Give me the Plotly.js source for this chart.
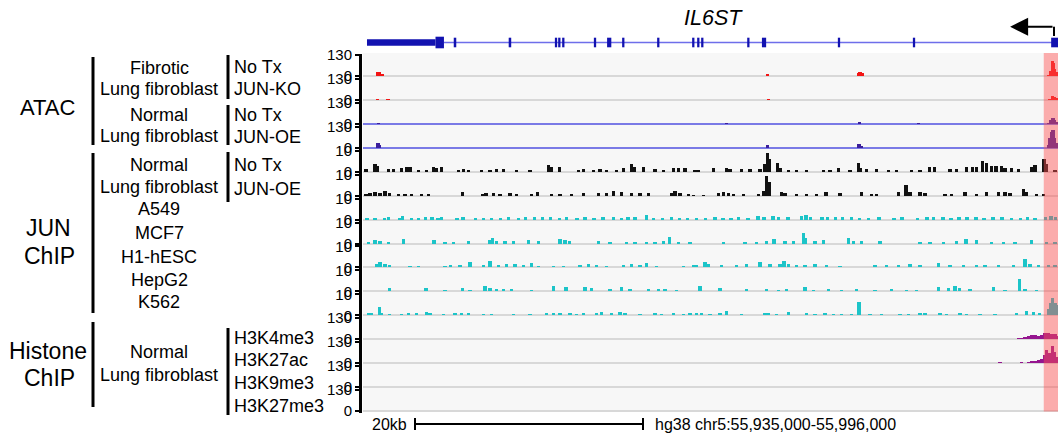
<!DOCTYPE html>
<html><head><meta charset="utf-8">
<script src="https://cdn.plot.ly/plotly-3.0.1.min.js"></script>
<style>html,body{margin:0;padding:0;background:#fff}#chart{width:1058px;height:438px}</style>
</head><body><div id="chart"></div>
<script>
// ---- Region: hg38 chr5:55,935,000-55,996,000 ; positions in kb from 55,935,000 ----
const regionLabel = "hg38 chr5:55,935,000-55,996,000";
const regionStartKb = -0.26, regionEndKb = 60.7;
const highlightStartKb = 59.45;
const scaleBarStartKb = 4.3, scaleBarLengthKb = 20, scaleBarLabel = "20kb";
const geneName = "IL6ST";
const geneTssKb = 60.35, geneArrowTipKb = 56.5;

// Gene model (minus strand)
const geneUtrKb = [0.09, 6.1];
const geneFirstBlockKb = [6.1, 6.84];
const exonStartKb = [7.7,12.52,16.57,16.86,17.21,19.99,21.15,22.47,25.54,28.61,29.05,29.4,33.44,34.73,41.39,47.97,60.1];
const exonEndKb   = [7.92,12.74,16.77,17.06,17.41,20.19,21.52,22.67,25.74,28.81,29.25,29.6,33.64,35.1,41.59,48.17,60.7];

// Track y-axis maxima
const trackMax = [130,130,130,130,10,10,10,10,10,10,10,130,130,130,130];

// ATAC Fibrotic No Tx
const atacFibNoTxPos = [1.0,1.2,1.4,35.2,43.2,43.35,43.55,59.85,60.05,60.2,60.3,60.4,60.6];
const atacFibNoTxVal = [22,26,12,14,18,24,16,8,30,95,80,45,22];
// ATAC Fibrotic JUN-KO
const atacFibKoPos = [1.0,1.95,35.3,59.95,60.2,60.35,60.55];
const atacFibKoVal = [4,4,4,8,25,20,12];
// ATAC Normal No Tx
const atacNormNoTxPos = [1.08,31.6,43.3,48.45,59.9,60.1,60.25,60.4,60.55];
const atacNormNoTxVal = [5,4,9,4,8,22,36,24,12];
// ATAC Normal JUN-OE
const atacNormOePos = [1.05,1.2,35.2,43.25,43.45,59.85,60.0,60.15,60.25,60.4,60.6];
const atacNormOeVal = [27,16,15,23,12,20,60,100,112,60,30];

// JUN ChIP Normal No Tx
const junNoTxPos = [0.0,0.79,1.02,1.96,2.4,3.13,3.57,3.86,4.59,5.32,5.91,6.14,6.64,8.1,8.54,8.98,10.15,10.88,11.46,12.05,13.22,14.39,15.99,16.29,16.96,18.63,19.06,19.94,20.53,21.11,21.99,22.57,23.3,23.51,24.33,25.35,26.08,26.96,27.4,27.98,28.86,29.15,30.47,31.64,31.93,32.95,33.68,34.56,35.0,35.23,35.38,36.08,36.31,37.05,37.78,38.65,40.12,40.7,41.43,42.46,43.19,43.39,43.92,44.8,45.82,46.55,47.86,48.6,49.41,49.85,51.23,51.81,52.69,53.21,53.57,54.09,54.44,54.88,55.26,55.76,56.05,56.64,57.22,58.39,58.68,59.47,59.65,60.44];
const junNoTxVal = [1.1,3.5,2.7,1.4,1.1,1.7,2.4,2.1,0.8,0.8,2.4,1.9,2.4,0.8,1.4,1.0,0.6,1.0,1.4,1.1,1.0,0.6,3.0,2.1,2.4,1.0,1.1,1.0,1.4,0.8,0.8,1.9,3.7,2.4,2.1,1.1,0.8,1.7,1.9,1.9,0.8,0.6,1.7,1.7,1.1,1.1,1.1,1.4,3.5,8.7,5.9,4.3,1.9,0.8,0.8,1.0,0.8,0.8,1.9,0.8,4.3,1.9,1.1,1.4,1.0,0.6,0.8,0.8,2.2,2.2,1.1,1.4,2.1,2.4,2.1,4.9,4.3,2.7,2.7,2.7,1.7,1.7,1.4,2.4,3.0,5.9,3.5,0.6];
// JUN ChIP Normal JUN-OE
const junOePos = [0.0,0.35,0.79,1.23,1.67,2.05,2.84,3.42,4.0,4.88,5.47,8.48,10.23,10.53,11.17,11.75,12.63,13.22,14.53,15.03,16.29,17.02,18.04,19.06,20.38,21.11,21.7,22.43,23.3,24.04,24.77,26.81,27.1,27.54,28.27,28.71,29.59,30.9,31.34,31.78,32.22,33.1,34.41,34.91,35.15,35.35,36.46,36.75,37.78,38.65,39.53,40.35,41.58,43.48,44.36,44.8,46.69,47.37,47.72,48.6,49.03,50.79,51.37,52.54,53.57,54.44,55.47,56.05,56.49,57.66,57.95,58.83,59.42];
const junOeVal = [0.8,1.3,1.6,1.4,2.1,1.3,0.8,0.6,0.6,0.6,0.6,1.9,0.8,1.4,1.1,1.0,1.1,0.6,0.8,1.6,0.8,1.0,1.0,1.3,1.1,1.4,2.1,1.9,1.1,1.4,1.4,1.1,2.1,1.1,0.6,0.5,0.5,1.1,1.7,1.4,0.8,0.8,0.8,2.4,9.4,6.4,1.9,1.4,0.8,0.8,0.8,1.9,1.1,1.7,0.8,0.8,1.7,5.2,1.6,1.9,1.3,1.0,0.8,1.9,1.0,1.7,1.6,1.6,1.3,3.0,1.7,1.0,0.8];
// A549
const a549Pos = [0.1,0.8,1.6,2.0,3.0,3.2,4.0,4.6,5.2,5.8,6.3,6.6,8.0,8.5,9.6,10.3,11.0,11.8,12.5,13.4,14.0,14.8,15.5,16.2,17.0,17.6,18.5,19.2,20.0,20.8,21.7,22.4,23.0,23.6,24.6,25.2,26.0,26.8,27.5,28.2,29.0,29.8,30.6,31.3,32.0,32.7,33.5,34.4,34.9,35.7,36.2,37.0,38.2,38.6,39.0,40.0,40.5,41.2,41.8,42.6,43.3,44.1,45.0,46.3,47.0,48.4,49.2,49.8,50.6,51.3,52.0,52.7,53.5,54.2,55.0,55.8,56.6,57.4,58.0,58.7,59.6,60.1,60.5];
const a549Val = [0.6,0.9,0.7,1.0,0.8,1.6,0.6,0.9,1.1,1.3,0.8,1.0,0.7,1.2,0.6,0.7,0.9,0.8,1.0,0.9,1.2,1.0,1.3,1.1,0.9,1.4,0.9,1.0,0.8,1.0,1.0,0.9,1.0,1.1,2.0,0.9,0.8,1.0,0.7,0.9,0.8,0.9,1.0,0.8,0.9,1.0,0.7,1.5,1.2,1.7,1.3,1.0,1.8,2.3,1.0,1.2,1.0,1.0,1.0,1.1,0.9,0.8,1.0,0.7,1.0,0.8,1.3,1.0,1.1,0.9,1.0,1.0,1.2,0.8,1.0,1.0,0.9,0.8,1.0,0.9,1.2,1.6,1.0];
// MCF7
const mcf7Pos = [0.2,0.79,1.23,1.96,3.27,5.96,6.93,7.66,8.98,10.82,11.11,11.46,12.19,12.92,14.24,15.12,17.02,17.46,17.84,20.38,21.4,22.87,23.6,24.62,25.35,26.08,26.61,27.4,28.42,31.34,33.24,34.27,35.15,35.79,36.75,37.48,38.36,38.5,39.38,40.12,42.31,42.75,43.48,45.09,48.6,49.47,50.64,51.81,52.63,53.57,54.88,55.91,56.93,58.39,59.7,60.44];
const mcf7Val = [0.8,1.7,1.1,0.5,2.1,1.7,0.6,0.6,1.0,1.6,2.4,1.0,1.0,1.1,1.7,1.3,2.1,1.7,1.0,1.1,0.8,0.6,0.8,0.6,0.8,1.1,3.0,0.8,0.6,0.5,0.6,0.8,1.0,2.1,1.4,1.1,4.9,2.4,1.1,1.7,2.5,1.1,1.0,1.4,0.6,0.8,0.8,1.4,2.1,1.7,0.8,0.8,0.6,1.9,0.5,0.5];
// H1-hESC
const h1Pos = [0.06,0.94,1.23,1.67,2.05,3.86,4.59,6.93,7.43,8.25,9.12,10.29,10.88,11.61,12.34,13.07,13.8,14.53,15.12,16.43,17.31,18.77,19.5,20.23,21.11,22.57,23.3,24.04,24.62,25.5,27.84,28.71,29.0,29.74,30.03,31.2,32.51,33.39,34.56,35.44,36.31,36.67,37.05,37.78,38.5,39.38,40.41,41.58,44.65,45.67,46.69,47.72,48.6,50.2,51.23,52.4,53.57,54.3,55.47,56.78,57.81,58.25,58.98,59.85,60.44];
const h1Val = [0.3,1.4,2.4,1.7,1.1,0.6,0.8,0.6,1.1,1.0,2.4,1.1,3.0,1.1,1.7,1.7,1.1,2.1,0.8,0.6,0.8,1.1,1.6,1.1,0.8,1.0,1.7,1.1,2.2,0.8,0.6,1.1,1.1,2.7,1.6,1.1,1.1,1.4,2.7,1.4,1.6,3.0,1.4,1.1,1.1,1.4,1.1,0.5,1.3,1.1,1.1,1.6,1.3,2.2,1.1,1.1,1.3,1.1,1.0,1.3,4.0,1.6,1.3,1.0,1.3];
// HepG2
const hepg2Pos = [0.35,0.94,2.05,5.26,6.93,8.48,9.12,10.44,10.88,11.46,12.05,12.78,14.53,16.43,17.54,19.21,19.8,21.4,22.43,23.16,24.77,25.64,26.23,27.25,29.3,31.05,33.39,35.15,36.17,36.9,38.5,39.24,40.55,41.72,43.04,44.65,46.11,47.43,48.3,50.2,51.08,51.67,52.04,52.98,55.03,56.05,57.31,57.81,58.83];
const hepg2Val = [0.3,0.3,1.6,1.6,0.8,1.7,0.6,2.5,1.6,1.3,1.3,1.0,0.8,2.5,1.9,2.1,1.6,1.3,1.9,1.0,1.0,1.1,1.0,0.8,2.4,1.4,1.0,1.1,0.6,1.1,2.2,0.6,1.0,0.8,1.0,0.6,1.3,0.6,0.8,2.2,1.6,2.4,1.6,1.0,2.1,0.6,6.0,1.0,0.6];
// K562
const k562Pos = [0.2,0.5,1.17,1.37,2.05,3.13,3.71,4.44,5.32,5.61,6.78,7.81,8.39,8.98,10.29,11.02,12.92,14.39,15.85,16.43,17.02,17.89,18.48,19.06,20.23,20.67,21.55,22.28,22.72,24.04,25.35,25.94,26.96,27.84,28.42,29.0,29.44,30.18,31.05,31.64,32.95,35.0,35.3,36.02,37.05,38.65,39.38,40.26,40.99,41.72,42.6,43.25,44.21,45.23,46.84,47.57,48.6,49.03,50.35,50.93,52.11,52.69,53.86,55.18,57.07,57.95,58.54,59.07,59.85,60.06,60.23,60.44,60.64];
const k562Val = [1.0,1.3,3.8,1.3,0.6,0.8,1.3,1.1,1.6,1.0,0.6,1.3,1.0,1.0,0.6,0.6,0.8,0.8,1.0,1.3,1.1,1.0,0.8,1.1,1.3,1.4,1.0,1.6,1.3,0.8,1.0,0.8,1.0,0.8,1.0,1.0,1.3,0.8,1.3,1.9,0.8,1.3,1.0,0.6,1.6,1.0,0.8,1.1,0.8,0.8,0.8,6.4,0.8,0.8,0.6,0.6,1.0,1.3,1.0,0.8,1.0,0.8,0.6,0.8,1.1,1.9,1.4,1.0,2.9,5.7,8.4,5.7,4.8];
// Histone ChIP, normal lung fibroblast
const h3k4me3Pos = [55.18,56.64,57.22,57.51,57.81,58.1,58.39,58.68,58.98,59.27,59.56,59.85,60.15,60.44,60.67];
const h3k4me3Val = [4,4,8,10,14,20,27,25,23,29,39,41,35,31,23];
const h3k27acPos = [42.9,44.5,55.6,57.5,58.1,58.4,58.7,59.0,59.3,59.5,59.7,59.9,60.0,60.2,60.4,60.6];
const h3k27acVal = [4,4,6,6,10,14,14,18,27,52,82,52,62,107,72,41];
const h3k9me3Pos = [], h3k9me3Val = [];
const h3k27me3Pos = [], h3k27me3Val = [];

// ---- styling ----
const RED = '#f21414', NAVY = '#3b1f9c', BLACK = '#111111', CYAN = '#1cc4c8', PURPLE = '#95158f';
const seriesPos = [atacFibNoTxPos, atacFibKoPos, atacNormNoTxPos, atacNormOePos, junNoTxPos, junOePos, a549Pos, mcf7Pos, h1Pos, hepg2Pos, k562Pos, h3k4me3Pos, h3k27acPos, h3k9me3Pos, h3k27me3Pos];
const seriesVal = [atacFibNoTxVal, atacFibKoVal, atacNormNoTxVal, atacNormOeVal, junNoTxVal, junOeVal, a549Val, mcf7Val, h1Val, hepg2Val, k562Val, h3k4me3Val, h3k27acVal, h3k9me3Val, h3k27me3Val];
const seriesColor = [RED, RED, NAVY, NAVY, BLACK, BLACK, CYAN, CYAN, CYAN, CYAN, CYAN, PURPLE, PURPLE, PURPLE, PURPLE];
const zeroColor = ['#d8d8d8','#d8d8d8','#7a7ae6','#7a7ae6','#d8d8d8','#d8d8d8','#d8d8d8','#d8d8d8','#d8d8d8','#d8d8d8','#d8d8d8','#d8d8d8','#d8d8d8','#d8d8d8','#d8d8d8'];

const W = 1058, H = 438, ML = 360, MB = 25, PH = H - MB;
const fx = px => (px - ML) / (W - ML);
const fy = py => (PH - py) / PH;
const clamp = v => Math.max(0, Math.min(1, v));
const BASE0 = 76, STEP = 23.93, TOPPAD = 21.93, BOTPAD = 2, LABEL_H = 21;

const FONT = 'Liberation Sans, Arial, sans-serif';
const TICKFONT = {family: 'Liberation Sans Narrow, Arial Narrow, Liberation Sans, Arial, sans-serif', size: 15, color: '#000'};

const data = [];
const layout = {
  width: W, height: H,
  margin: {l: ML, r: 0, t: 0, b: MB, pad: 0},
  paper_bgcolor: '#ffffff', plot_bgcolor: 'rgba(0,0,0,0)',
  showlegend: false, barmode: 'overlay', bargap: 0,
  font: {family: FONT, color: '#000'},
  xaxis: {domain: [3/(W-ML), 1], range: [regionStartKb, regionEndKb], visible: false, fixedrange: true, anchor: 'y15'},
  shapes: [], annotations: []
};

seriesPos.forEach((pos, i) => {
  const m = trackMax[i];
  const b = BASE0 + STEP * i;
  const yname = i === 0 ? 'yaxis' : 'yaxis' + (i + 1);
  const yid = i === 0 ? 'y' : 'y' + (i + 1);
  layout[yname] = {
    domain: [clamp(fy(b + BOTPAD)), clamp(fy(b - TOPPAD))],
    range: [-m * BOTPAD / LABEL_H, m * TOPPAD / LABEL_H],
    anchor: 'free', position: 0,
    tickmode: 'array', tickvals: [0, m], ticktext: ['0', String(m)],
    ticks: 'outside', ticklen: 4, tickwidth: 2, tickcolor: '#000',
    showline: true, linecolor: '#000', linewidth: 3,
    showgrid: false, zeroline: true, zerolinecolor: zeroColor[i], zerolinewidth: 2,
    tickfont: TICKFONT, fixedrange: true
  };
  data.push({
    type: 'bar', x: pos, y: seriesVal[i], width: 0.3,
    marker: {color: seriesColor[i], line: {width: 0}},
    xaxis: 'x', yaxis: yid, hoverinfo: 'skip'
  });
});

// Gene track axis (pixel-like units, 0 at track-1 top)
const GENE_H = 54;
layout.yaxis16 = {domain: [clamp(fy(GENE_H)), 1], range: [0, GENE_H], visible: false, fixedrange: true, anchor: 'x'};
const gy = py => GENE_H - py;
const GENE_LINE_Y = gy(42.5);
data.push({type: 'scatter', mode: 'lines', x: [geneFirstBlockKb[1], regionEndKb], y: [GENE_LINE_Y, GENE_LINE_Y],
  line: {color: '#6e6eea', width: 1.5}, xaxis: 'x', yaxis: 'y16', hoverinfo: 'skip'});

const S = layout.shapes;
// track background
S.push({type: 'rect', xref: 'paper', yref: 'paper', x0: fx(363), x1: 1, y0: fy(412), y1: fy(53),
  fillcolor: '#f7f7f7', line: {width: 0}, layer: 'below'});
// gene blocks
const GENE_BLUE = '#1212b0';
S.push({type: 'rect', xref: 'x', yref: 'y16', x0: geneUtrKb[0], x1: geneUtrKb[1], y0: GENE_LINE_Y - 3.3, y1: GENE_LINE_Y + 3.3, fillcolor: GENE_BLUE, line: {width: 0}});
S.push({type: 'rect', xref: 'x', yref: 'y16', x0: geneFirstBlockKb[0], x1: geneFirstBlockKb[1], y0: GENE_LINE_Y - 5.8, y1: GENE_LINE_Y + 5.8, fillcolor: GENE_BLUE, line: {width: 0}});
exonStartKb.forEach((s, k) => {
  S.push({type: 'rect', xref: 'x', yref: 'y16', x0: s, x1: exonEndKb[k], y0: GENE_LINE_Y - 4.8, y1: GENE_LINE_Y + 4.8, fillcolor: GENE_BLUE, line: {width: 0}});
});
// TSS arrow vertical part
S.push({type: 'line', xref: 'x', yref: 'y16', x0: geneTssKb, x1: geneTssKb, y0: gy(36), y1: gy(26.7), line: {color: '#000', width: 2}});
// highlight
S.push({type: 'rect', xref: 'x', yref: 'paper', x0: highlightStartKb, x1: regionEndKb, y0: fy(411.5), y1: fy(53),
  fillcolor: 'rgba(255,80,80,0.45)', line: {width: 0}, layer: 'above'});
// scale bar
const sbY = fy(424);
S.push({type: 'line', xref: 'x', yref: 'paper', x0: scaleBarStartKb, x1: scaleBarStartKb + scaleBarLengthKb, y0: sbY, y1: sbY, line: {color: '#000', width: 2}});
[scaleBarStartKb, scaleBarStartKb + scaleBarLengthKb].forEach(xk => {
  S.push({type: 'line', xref: 'x', yref: 'paper', x0: xk, x1: xk, y0: fy(418), y1: fy(430), line: {color: '#000', width: 2}});
});
// brackets
const bracket = (xpx, y0, y1) => S.push({type: 'line', xref: 'paper', yref: 'paper', x0: fx(xpx), x1: fx(xpx), y0: fy(y0), y1: fy(y1), line: {color: '#000', width: 3}});
bracket(93, 57, 145); bracket(93, 153, 313); bracket(93, 322, 407);
bracket(228, 55, 99); bracket(228, 105, 145); bracket(228, 152, 202); bracket(228, 328, 415);

const A = layout.annotations;
const lab = (text, xpx, ypx, size, xanchor) => A.push({text, xref: 'paper', yref: 'paper', x: fx(xpx), y: fy(ypx),
  xanchor: xanchor || 'center', yanchor: 'middle', showarrow: false, font: {family: FONT, size, color: '#000'}});
// group labels
lab('ATAC', 48, 108, 22);
lab('JUN', 48, 228, 23); lab('ChIP', 49, 256, 23);
lab('Histone', 48, 351, 23); lab('ChIP', 49, 378, 23);
// cell labels
[['Fibrotic', 68], ['Lung fibroblast', 89], ['Normal', 115], ['Lung fibroblast', 136],
 ['Normal', 165], ['Lung fibroblast', 187], ['A549', 209], ['MCF7', 233], ['H1-hESC', 257], ['HepG2', 280], ['K562', 302],
 ['Normal', 352], ['Lung fibroblast', 375]].forEach(([t, y]) => lab(t, 159, y, 18));
// condition labels
[['No Tx', 67], ['JUN-KO', 89], ['No Tx', 115], ['JUN-OE', 137], ['No Tx', 165], ['JUN-OE', 189],
 ['H3K4me3', 338], ['H3K27ac', 360], ['H3K9me3', 383], ['H3K27me3', 406]].forEach(([t, y]) => lab(t, 232, y, 18, 'left'));
// bottom scale text
lab(scaleBarLabel, 409, 424, 16, 'right');
lab(regionLabel, 653, 424, 16, 'left');
// gene name
A.push({text: '<i>' + geneName + '</i>', xref: 'x', yref: 'y16', x: 30.48, y: gy(18), xanchor: 'center', yanchor: 'middle',
  showarrow: false, font: {family: FONT, size: 21.5, color: '#000'}});
// TSS arrow
A.push({text: '', xref: 'x', yref: 'y16', x: geneArrowTipKb, y: gy(26.7), axref: 'x', ayref: 'y16', ax: geneTssKb, ay: gy(26.7),
  showarrow: true, arrowhead: 2, arrowsize: 1.8, arrowwidth: 2, arrowcolor: '#000', standoff: 0, startstandoff: 0});

Plotly.newPlot('chart', data, layout, {staticPlot: true, displayModeBar: false});
</script>
</body></html>
